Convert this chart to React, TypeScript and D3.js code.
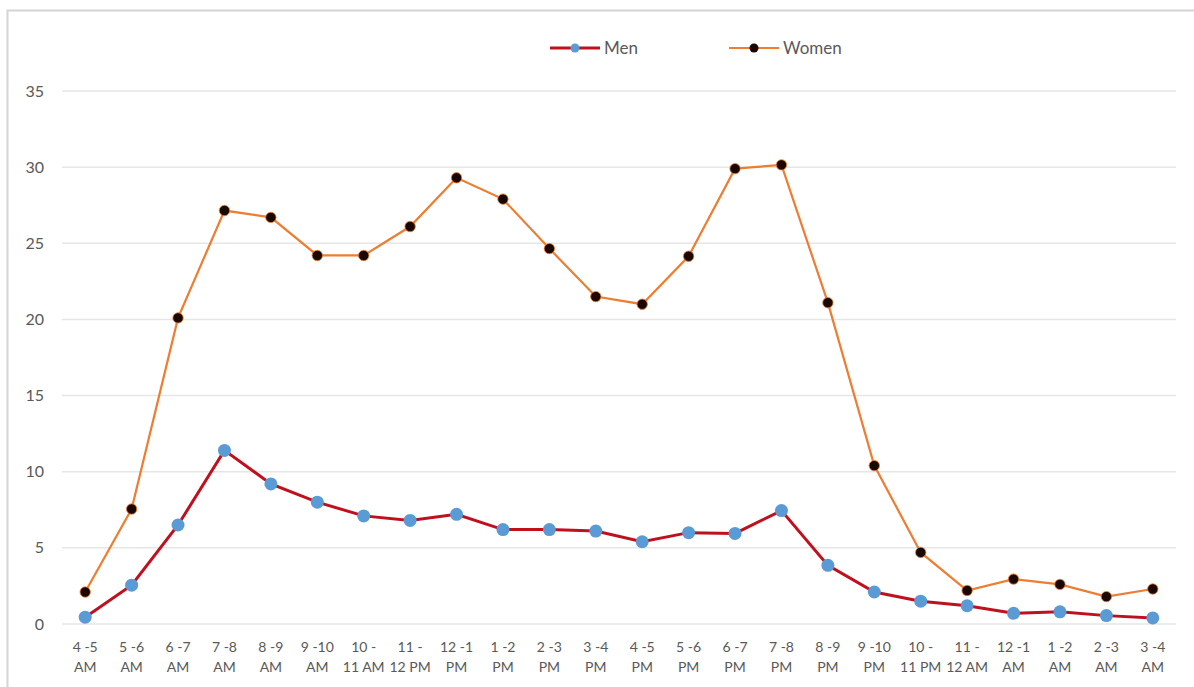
import React from "react";
import * as d3 from "d3";

// Hour slots (two-line labels)
const hourTop = [
  "4 -5", "5 -6", "6 -7", "7 -8", "8 -9", "9 -10", "10 -", "11 -", "12 -1", "1 -2", "2 -3", "3 -4",
  "4 -5", "5 -6", "6 -7", "7 -8", "8 -9", "9 -10", "10 -", "11 -", "12 -1", "1 -2", "2 -3", "3 -4",
];
const hourBottom = [
  "AM", "AM", "AM", "AM", "AM", "AM", "11 AM", "12 PM", "PM", "PM", "PM", "PM",
  "PM", "PM", "PM", "PM", "PM", "PM", "11 PM", "12 AM", "AM", "AM", "AM", "AM",
];

const menValues = [
  0.45, 2.55, 6.5, 11.4, 9.2, 8.0, 7.1, 6.8, 7.2, 6.2, 6.2, 6.1,
  5.4, 6.0, 5.95, 7.45, 3.85, 2.1, 1.5, 1.2, 0.7, 0.8, 0.55, 0.4,
];
const womenValues = [
  2.1, 7.55, 20.1, 27.15, 26.7, 24.2, 24.2, 26.1, 29.3, 27.9, 24.65, 21.5,
  21.0, 24.15, 29.9, 30.15, 21.1, 10.4, 4.7, 2.2, 2.95, 2.6, 1.8, 2.3,
];

const yTicks = [0, 5, 10, 15, 20, 25, 30, 35];

const FONT = "Lato, 'Liberation Sans', sans-serif";
const TEXT = "#595959";

export default function App() {
  const W = 1194;
  const H = 687;
  const idx = d3.range(hourTop.length);

  const x = d3.scaleBand<number>().domain(idx).range([62, 1176]);
  const cx = (i: number) => (x(i) as number) + x.bandwidth() / 2;
  const y = d3.scaleLinear().domain([0, 35]).range([624, 91]);

  const line = d3
    .line<number>()
    .x((_, i) => cx(i))
    .y((d) => y(d));

  return (
    <svg
      width={W}
      height={H}
      style={{ position: "absolute", left: 0, top: 0, background: "#fff" }}
      fontFamily={FONT}
    >
      <rect x={0} y={0} width={W} height={H} fill="#fff" />
      {/* chart frame */}
      <rect x={7.5} y={10.5} width={W + 20} height={H + 20} fill="#fff" stroke="#d4d4d4" strokeWidth={2} />

      {/* gridlines + y labels */}
      {yTicks.map((t) => (
        <g key={t}>
          <line x1={62} x2={1176} y1={y(t)} y2={y(t)} stroke="#e6e6e6" strokeWidth={1.5} />
          <text x={44} y={y(t)} dy="0.35em" textAnchor="end" fontSize={16} fill={TEXT}>
            {t}
          </text>
        </g>
      ))}

      {/* x labels */}
      {idx.map((i) => (
        <g key={i}>
          <text x={cx(i)} y={652} textAnchor="middle" fontSize={14} fill={TEXT}>
            {hourTop[i]}
          </text>
          <text x={cx(i)} y={672} textAnchor="middle" fontSize={14} fill={TEXT}>
            {hourBottom[i]}
          </text>
        </g>
      ))}

      {/* Women series */}
      <path d={line(womenValues) as string} fill="none" stroke="#ED7D31" strokeWidth={2.2} />
      {womenValues.map((v, i) => (
        <circle key={i} cx={cx(i)} cy={y(v)} r={5.2} fill="#1a0800" stroke="#ED7D31" strokeWidth={0.8} />
      ))}

      {/* Men series */}
      <path d={line(menValues) as string} fill="none" stroke="#C0101E" strokeWidth={3} />
      {menValues.map((v, i) => (
        <circle key={i} cx={cx(i)} cy={y(v)} r={6.5} fill="#5B9BD5" />
      ))}

      {/* legend */}
      <g>
        <line x1={550} x2={600} y1={48} y2={48} stroke="#C0101E" strokeWidth={3} />
        <circle cx={575} cy={48} r={4.5} fill="#5B9BD5" />
        <text x={604} y={48} dy="0.35em" fontSize={17} fill={TEXT}>
          Men
        </text>
        <line x1={729} x2={779} y1={48} y2={48} stroke="#ED7D31" strokeWidth={2.2} />
        <circle cx={754} cy={48} r={4.5} fill="#1a0800" />
        <text x={783} y={48} dy="0.35em" fontSize={17} fill={TEXT}>
          Women
        </text>
      </g>
    </svg>
  );
}
